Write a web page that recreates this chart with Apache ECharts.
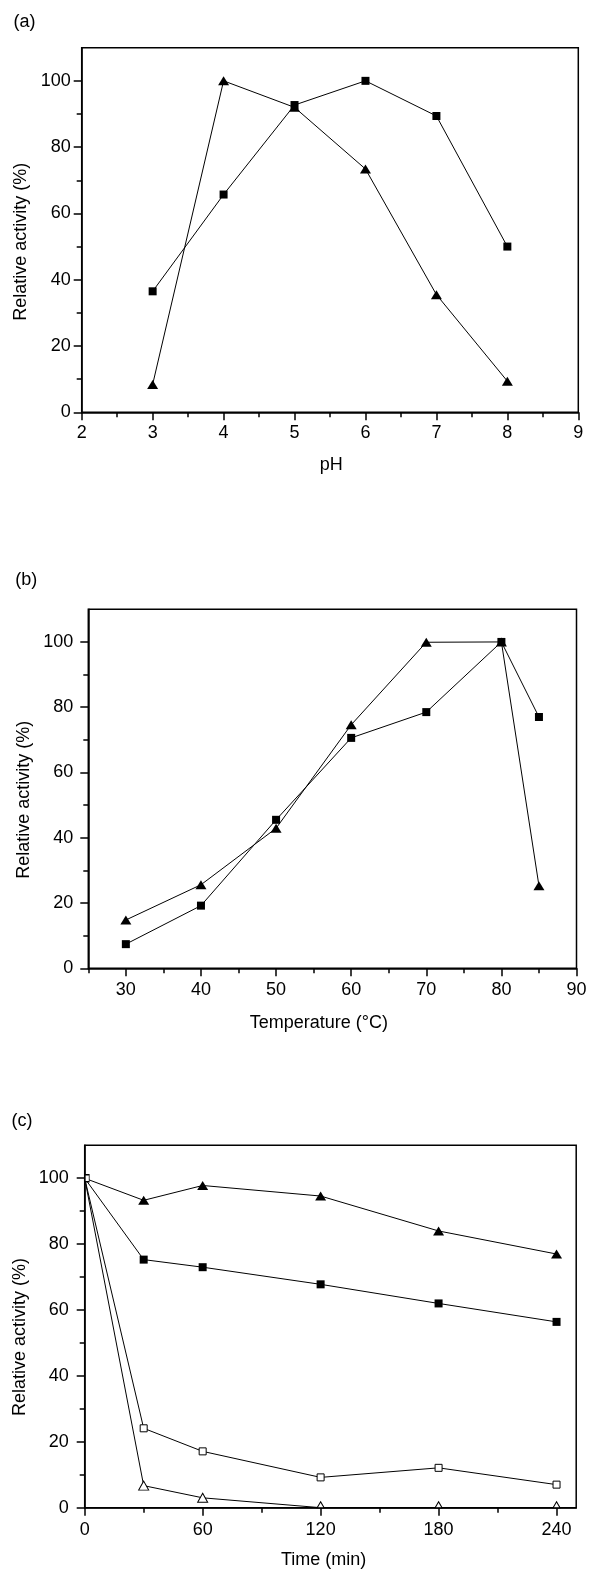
<!DOCTYPE html>
<html><head><meta charset="utf-8">
<script src="https://cdn.jsdelivr.net/npm/echarts@6/dist/echarts.min.js"></script>
<style>html,body{margin:0;padding:0;background:#fff}#c{width:600px;height:1580px}</style>
</head><body><div id="c"></div>
<script>
// ---- data ----
const phValues = [3, 4, 5, 6, 7, 8];
const phSquares = [36.5, 65.7, 92.7, 100, 89.4, 50];
const phTriangles = [8.4, 100, 92, 73.4, 35.5, 9.4];

const tempValues = [30, 40, 50, 60, 70, 80, 85];
const tempTriangles = [14.8, 25.6, 42.9, 74.6, 99.9, 100, 25.3];
const tempSquares = [7.4, 19.2, 45.5, 70.6, 78.5, 100, 77];

const timeValues = [0, 30, 60, 120, 180, 240];
const timeFilledTriangles = [100, 93.3, 97.8, 94.6, 84, 77];
const timeFilledSquares = [100, 75.3, 73, 67.8, 62, 56.4];
const timeOpenSquares = [100, 24.1, 17.1, 9.2, 12.1, 7];
const timeOpenTriangles = [100, 6.7, 3, 0, 0, 0];

const yTicks = [0, 20, 40, 60, 80, 100];
const yMinorTicks = [10, 30, 50, 70, 90];
const phTicks = [2, 3, 4, 5, 6, 7, 8, 9];
const phMinorTicks = [2.5, 3.5, 4.5, 5.5, 6.5, 7.5, 8.5];
const tempTicks = [30, 40, 50, 60, 70, 80, 90];
const tempMinorTicks = [25, 35, 45, 55, 65, 75, 85];
const timeTicks = [0, 60, 120, 180, 240];
const timeMinorTicks = [30, 90, 150, 210];

const panelLabels = ['(a)', '(b)', '(c)'];
const xTitles = ['pH', 'Temperature (\u00B0C)', 'Time (min)'];
const yTitle = 'Relative activity (%)';

// ---- layout / style ----
const FONT = '"Liberation Sans", Arial, Helvetica, sans-serif';
const BLACK = '#000';
const panels = [
  {left: 81.7, top: 47.7, width: 496.6, height: 364.6, xmin: 2, xmax: 9,
   xt: phTicks, xm: phMinorTicks, ylm: 11, xlm: 12,
   lab: [13.4, 22.5], xtitle: [331.3, 465], ytitle: [21, 241.7]},
  {left: 88.3, top: 609.3, width: 488.2, height: 359, xmin: 25, xmax: 90,
   xt: tempTicks, xm: tempMinorTicks, ylm: 15, xlm: 12.5,
   lab: [15.3, 580], xtitle: [318.8, 1023.5], ytitle: [24, 799.7]},
  {left: 84.7, top: 1145.3, width: 491.5, height: 362.4, xmin: 0, xmax: 250,
   xt: timeTicks, xm: timeMinorTicks, ylm: 16, xlm: 13,
   lab: [11.5, 1121.5], xtitle: [323.6, 1560], ytitle: [20, 1337]}
];

const grids = [], xAxes = [], yAxes = [], graphics = [];
const lineW = 1.5;
panels.forEach((p, i) => {
  grids.push({left: p.left, top: p.top, width: p.width, height: p.height,
    show: true, borderColor: BLACK, borderWidth: lineW, backgroundColor: 'transparent'});
  // major x
  xAxes.push({type: 'value', gridIndex: i, position: 'bottom', min: p.xmin, max: p.xmax,
    axisLine: {show: true, onZero: false, lineStyle: {color: BLACK, width: lineW}},
    axisTick: {show: true, customValues: p.xt, length: 8, lineStyle: {color: BLACK, width: lineW}},
    axisLabel: {show: true, customValues: p.xt, margin: p.xlm, fontSize: 18, fontFamily: FONT, color: BLACK},
    splitLine: {show: false}});
  // minor x
  xAxes.push({type: 'value', gridIndex: i, position: 'bottom', min: p.xmin, max: p.xmax,
    axisLine: {show: false},
    axisTick: {show: true, customValues: p.xm, length: 5, lineStyle: {color: BLACK, width: lineW}},
    axisLabel: {show: false}, splitLine: {show: false}});
  // major y
  yAxes.push({type: 'value', gridIndex: i, position: 'left', min: 0, max: 110,
    axisLine: {show: true, onZero: false, lineStyle: {color: BLACK, width: lineW}},
    axisTick: {show: true, customValues: yTicks, length: 8, lineStyle: {color: BLACK, width: lineW}},
    axisLabel: {show: true, customValues: yTicks, margin: p.ylm, fontSize: 18, fontFamily: FONT, color: BLACK},
    splitLine: {show: false}});
  // minor y
  yAxes.push({type: 'value', gridIndex: i, position: 'left', min: 0, max: 110,
    axisLine: {show: false},
    axisTick: {show: true, customValues: yMinorTicks, length: 5, lineStyle: {color: BLACK, width: lineW}},
    axisLabel: {show: false}, splitLine: {show: false}});

  graphics.push({type: 'text', x: p.lab[0], y: p.lab[1],
    style: {text: panelLabels[i], font: '18px ' + FONT, fill: BLACK, align: 'left', verticalAlign: 'middle'}});
  graphics.push({type: 'text', x: p.xtitle[0], y: p.xtitle[1],
    style: {text: xTitles[i], font: '18px ' + FONT, fill: BLACK, align: 'center', verticalAlign: 'middle'}});
  graphics.push({type: 'text', x: p.ytitle[0], y: p.ytitle[1], rotation: Math.PI / 2,
    style: {text: yTitle, font: '18px ' + FONT, fill: BLACK, align: 'center', verticalAlign: 'middle'}});
});

const TRI = [11, 9];
const SQ = 8;
function mk(name, panel, xs, ys, symbol, size, filled, itemFn) {
  return {
    name: name, type: 'line', xAxisIndex: panel * 2, yAxisIndex: panel * 2,
    data: xs.map((x, k) => itemFn ? itemFn(x, ys[k], k) : [x, ys[k]]),
    symbol: symbol, symbolSize: size, showSymbol: true, clip: false,
    lineStyle: {color: BLACK, width: 1},
    itemStyle: filled ? {color: BLACK, borderWidth: 0} : {color: '#fff', borderColor: BLACK, borderWidth: 1},
    z: 3, animation: false
  };
}
const hideFirst = (x, y, k) => k === 0 ? {value: [x, y], symbol: 'none'} : [x, y];
const series = [
  mk('pH triangles', 0, phValues, phTriangles, 'triangle', TRI, true),
  mk('pH squares', 0, phValues, phSquares, 'rect', SQ, true),
  mk('T triangles', 1, tempValues, tempTriangles, 'triangle', TRI, true),
  mk('T squares', 1, tempValues, tempSquares, 'rect', SQ, true),
  mk('t filled triangles', 2, timeValues, timeFilledTriangles, 'triangle', TRI, true, hideFirst),
  mk('t filled squares', 2, timeValues, timeFilledSquares, 'rect', SQ, true, hideFirst),
  mk('t open triangles', 2, timeValues, timeOpenTriangles, 'triangle', [10, 9], false,
     (x, y, k) => k === 0 ? {value: [x, y], symbol: 'none'}
       : (y === 0 ? {value: [x, y], symbolSize: [7, 6], symbolOffset: [0, -3]} : [x, y])),
  mk('t open squares', 2, timeValues, timeOpenSquares, 'rect', 7, false,
     (x, y, k) => k === 0 ? {value: [x, y], symbolSize: [4, 7], symbolOffset: [2.5, 0]} : [x, y])
];

const chart = echarts.init(document.getElementById('c'), null, {renderer: 'canvas'});
chart.setOption({
  animation: false,
  backgroundColor: '#fff',
  grid: grids, xAxis: xAxes, yAxis: yAxes, series: series,
  graphic: graphics
});
</script></body></html>
